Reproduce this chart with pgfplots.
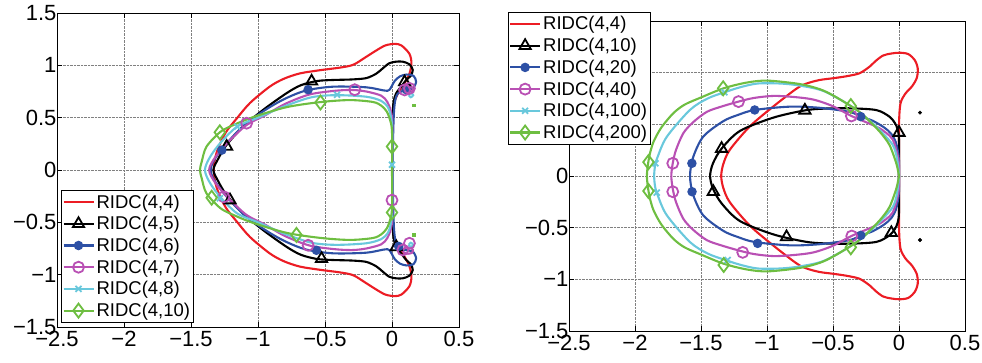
\documentclass[border=0pt]{standalone}
\usepackage{fontspec}
\setmainfont{Liberation Sans}
\usepackage{pgfplots}
\pgfplotsset{compat=1.18}
\definecolor{cred}{RGB}{236,28,36}
\definecolor{cblk}{RGB}{0,0,0}
\definecolor{cblu}{RGB}{45,80,165}
\definecolor{cmag}{RGB}{185,80,180}
\definecolor{ccya}{RGB}{105,200,220}
\definecolor{cgrn}{RGB}{110,190,65}
\pgfplotsset{
  panel/.style={
    scale only axis, xmin=-2.5, xmax=0.5, ymin=-1.5, ymax=1.5,
    xtick={-2.5,-2,-1.5,-1,-0.5,0,0.5},
    xticklabels={−2.5,−2,−1.5,−1,−0.5,0,0.5},
    ytick={-1.5,-1,-0.5,0,0.5,1,1.5},
    yticklabels={−1.5,−1,−0.5,0,0.5,1,1.5},
    tick label style={font=\fontsize{22}{22}\selectfont},
    xticklabel style={yshift=-1pt},
    yticklabel style={xshift=3pt},
    grid=major, grid style={densely dotted, black!50, line width=0.7pt},
    axis line style={line width=0.9pt},
    major tick length=5pt, tick style={black, line width=0.7pt},
    legend cell align=left,
    legend image code/.code={\draw[mark repeat=2,mark phase=2,##1] plot coordinates {(0pt,0pt) (15pt,0pt) (30pt,0pt)};},
    legend style={font=\fontsize{18.5}{18.5}\selectfont, draw=black, line width=0.9pt, fill=white,
      inner sep=1pt, nodes={inner ysep=3.4pt, inner xsep=2pt}},
  },
  lin/.style={line width=2.1pt, smooth, tension=0.5, forget plot, mark=none},
  mk/.style={only marks, forget plot, mark options={solid, line width=1.8pt}},
  tri/.style={mark=triangle, mark size=6.5pt},
  dot/.style={mark=*, mark size=3.8pt},
  cir/.style={mark=o, mark size=5.5pt},
  crs/.style={mark=x, mark size=4.2pt},
  dia/.style={mark=diamond, mark size=7pt},
  lg/.style={line width=2.1pt, mark options={solid, line width=1.8pt}},
}
\begin{document}
\begin{tikzpicture}[x=1pt,y=1pt]
\path[use as bounding box] (0,0) rectangle (982,362);
% ---------------- left panel ----------------
\begin{axis}[panel, at={(57pt,35pt)}, anchor=south west, width=402pt, height=314pt,
  legend style={at={(0.01,0.013)}, anchor=south west}]
\addlegendimage{cred, lg}
\addlegendentry{RIDC(4,4)}
\addlegendimage{cblk, lg, tri}
\addlegendentry{RIDC(4,5)}
\addlegendimage{cblu, lg, dot}
\addlegendentry{RIDC(4,6)}
\addlegendimage{cmag, lg, cir}
\addlegendentry{RIDC(4,7)}
\addlegendimage{ccya, lg, crs}
\addlegendentry{RIDC(4,8)}
\addlegendimage{cgrn, lg, dia}
\addlegendentry{RIDC(4,10)}
% RIDC(4,4)
\addplot[cred, lin] coordinates {(0.004,0) (0.004,0.45) (0.012,0.62) (0.04,0.72) (0.09,0.82) (0.13,0.92) (0.145,1.02) (0.13,1.11) (0.07,1.19) (0.02,1.205) (-0.05,1.19) (-0.12,1.14) (-0.2,1.075) (-0.29,1.005) (-0.39,0.978) (-0.54,0.953) (-0.69,0.922) (-0.81,0.87) (-0.913,0.796) (-1.06,0.64) (-1.16,0.49) (-1.24,0.36) (-1.3,0.2) (-1.325,0.08) (-1.33,0) (-1.325,-0.08) (-1.3,-0.2) (-1.24,-0.36) (-1.16,-0.49) (-1.06,-0.64) (-0.913,-0.796) (-0.81,-0.87) (-0.69,-0.922) (-0.54,-0.953) (-0.39,-0.978) (-0.29,-1.005) (-0.2,-1.075) (-0.12,-1.14) (-0.05,-1.19) (0.02,-1.205) (0.07,-1.19) (0.13,-1.11) (0.145,-1.02) (0.13,-0.92) (0.09,-0.82) (0.04,-0.72) (0.012,-0.62) (0.004,-0.45) (0.004,0)};
% RIDC(4,5)
\addplot[cblk, lin] coordinates {(0.005,0) (0.005,0.5) (0.012,0.65) (0.03,0.73) (0.07,0.80) (0.106,0.86) (0.14,0.9) (0.155,0.956) (0.13,1.01) (0.08,1.035) (0.031,1.035) (-0.02,1.02) (-0.07,0.97) (-0.118,0.92) (-0.192,0.878) (-0.3,0.865) (-0.44,0.86) (-0.56,0.85) (-0.68,0.81) (-0.788,0.733) (-0.962,0.574) (-1.111,0.415) (-1.235,0.239) (-1.30,0.10) (-1.333,0) (-1.30,-0.10) (-1.235,-0.239) (-1.111,-0.415) (-0.962,-0.574) (-0.788,-0.733) (-0.68,-0.81) (-0.56,-0.85) (-0.44,-0.86) (-0.3,-0.865) (-0.192,-0.878) (-0.118,-0.92) (-0.07,-0.97) (-0.02,-1.02) (0.031,-1.035) (0.08,-1.035) (0.13,-1.01) (0.155,-0.956) (0.14,-0.9) (0.106,-0.86) (0.07,-0.80) (0.03,-0.73) (0.012,-0.65) (0.005,-0.5) (0.005,0)};
\addplot[cblk, mk, tri] coordinates {(-0.6,0.847) (-1.234,0.224) (-1.209,-0.288) (-0.526,-0.847) (0.094,0.84) (0.032,-0.735)};
% RIDC(4,6)
\addplot[cblu, lin] coordinates {(0.005,0) (0.008,0.3) (0.014,0.54) (0.024,0.665) (0.043,0.73) (0.093,0.762) (0.155,0.78) (0.18,0.844) (0.16,0.9) (0.11,0.912) (0.06,0.895) (0.02,0.85) (-0.02,0.765) (-0.06,0.76) (-0.192,0.79) (-0.44,0.796) (-0.64,0.76) (-0.8,0.68) (-0.95,0.57) (-1.111,0.42) (-1.25,0.23) (-1.33,0.09) (-1.353,0) (-1.33,-0.09) (-1.25,-0.23) (-1.111,-0.42) (-0.95,-0.57) (-0.8,-0.68) (-0.64,-0.76) (-0.44,-0.796) (-0.192,-0.79) (-0.06,-0.76) (-0.02,-0.765) (0.02,-0.85) (0.06,-0.895) (0.11,-0.912) (0.16,-0.9) (0.18,-0.844) (0.155,-0.78) (0.093,-0.762) (0.043,-0.73) (0.024,-0.665) (0.014,-0.54) (0.008,-0.3) (0.005,0)};
\addplot[cblu, mk, dot] coordinates {(-0.626,0.767) (-1.27,0.19) (-0.564,-0.767) (0.107,0.767) (0.05,-0.73)};
% RIDC(4,7)
\addplot[cmag, lin] coordinates {(0.003,0) (0.002,0.45) (-0.01,0.57) (-0.035,0.65) (-0.08,0.71) (-0.192,0.75) (-0.3,0.765) (-0.44,0.755) (-0.62,0.72) (-0.8,0.63) (-0.95,0.52) (-1.085,0.43) (-1.22,0.27) (-1.32,0.12) (-1.365,0) (-1.32,-0.12) (-1.22,-0.27) (-1.085,-0.43) (-0.95,-0.52) (-0.8,-0.63) (-0.62,-0.72) (-0.44,-0.755) (-0.3,-0.765) (-0.192,-0.75) (-0.08,-0.71) (-0.035,-0.65) (-0.01,-0.57) (0.002,-0.45) (0.003,0)};
\addplot[cmag, lin] coordinates {(0.08,0.765) (0.095,0.745) (0.13,0.74) (0.155,0.76) (0.15,0.79) (0.12,0.80) (0.09,0.79) (0.08,0.765)};
\addplot[cmag, lin] coordinates {(0.08,-0.765) (0.095,-0.745) (0.13,-0.74) (0.155,-0.76) (0.15,-0.79) (0.12,-0.80) (0.09,-0.79) (0.08,-0.765)};
\addplot[cmag, mk, cir] coordinates {(-0.278,0.767) (-1.085,0.447) (-1.254,-0.256) (-0.626,-0.719) (0,-0.288) (0.094,0.765) (0.13,0.78) (0.081,-0.764) (0.13,-0.70)};
% RIDC(4,8)
\addplot[ccya, lin] coordinates {(0.002,0) (0.001,0.4) (-0.01,0.52) (-0.03,0.6) (-0.08,0.66) (-0.192,0.70) (-0.416,0.715) (-0.6,0.695) (-0.8,0.61) (-1.0,0.5) (-1.155,0.415) (-1.28,0.26) (-1.36,0.12) (-1.396,0) (-1.36,-0.12) (-1.28,-0.26) (-1.155,-0.415) (-1.0,-0.5) (-0.8,-0.61) (-0.6,-0.695) (-0.416,-0.715) (-0.192,-0.70) (-0.08,-0.66) (-0.03,-0.6) (-0.01,-0.52) (0.001,-0.4) (0.002,0)};
\addplot[ccya, lin] coordinates {(0.125,0.715) (0.14,0.695) (0.158,0.715) (0.14,0.735) (0.125,0.715)};
\addplot[ccya, lin] coordinates {(0.125,-0.715) (0.14,-0.695) (0.158,-0.715) (0.14,-0.735) (0.125,-0.715)};
\addplot[ccya, mk, crs] coordinates {(-0.41,0.719) (-1.155,0.415) (-1.284,-0.27) (0,0.05)};
% RIDC(4,10)
\addplot[cgrn, lin] coordinates {(0,0) (0,0.37) (-0.015,0.48) (-0.04,0.56) (-0.08,0.615) (-0.143,0.65) (-0.317,0.668) (-0.54,0.648) (-0.788,0.6) (-1.037,0.505) (-1.2,0.42) (-1.285,0.36) (-1.385,0.222) (-1.42,0.08) (-1.433,0) (-1.42,-0.08) (-1.385,-0.222) (-1.285,-0.36) (-1.2,-0.42) (-1.037,-0.505) (-0.788,-0.6) (-0.54,-0.648) (-0.317,-0.668) (-0.143,-0.65) (-0.08,-0.615) (-0.04,-0.56) (-0.015,-0.48) (0,-0.37) (0,0)};
\addplot[cgrn, mk, dia] coordinates {(-0.534,0.645) (-1.285,0.36) (-1.346,-0.265) (-0.713,-0.62) (0,0.224) (0,-0.406)};
\addplot[cgrn, only marks, forget plot, mark=square*, mark size=1.3pt] coordinates {(0.162,0.621) (0.162,-0.621)};
\end{axis}
% ---------------- right panel ----------------
\begin{axis}[panel, at={(569pt,31pt)}, anchor=south west, width=396pt, height=310pt,
  yticklabels={−1.5,−1,−0.5,0,{},{},{}},
  legend style={at={(-0.155,1.03)}, anchor=north west}]
\addlegendimage{cred, lg}
\addlegendentry{RIDC(4,4)}
\addlegendimage{cblk, lg, tri}
\addlegendentry{RIDC(4,10)}
\addlegendimage{cblu, lg, dot}
\addlegendentry{RIDC(4,20)}
\addlegendimage{cmag, lg, cir}
\addlegendentry{RIDC(4,40)}
\addlegendimage{ccya, lg, crs}
\addlegendentry{RIDC(4,100)}
\addlegendimage{cgrn, lg, dia}
\addlegendentry{RIDC(4,200)}
% RIDC(4,4)
\addplot[cred, lin] coordinates {(0,0) (0,0.45) (0.004,0.62) (0.015,0.72) (0.05,0.80) (0.1,0.87) (0.135,0.95) (0.142,1.04) (0.12,1.12) (0.07,1.18) (0.004,1.193) (-0.06,1.185) (-0.122,1.165) (-0.18,1.11) (-0.223,1.058) (-0.3,0.994) (-0.4,0.965) (-0.5,0.946) (-0.601,0.929) (-0.7,0.895) (-0.777,0.845) (-0.954,0.671) (-1.13,0.48) (-1.281,0.255) (-1.33,0.12) (-1.347,0) (-1.33,-0.12) (-1.281,-0.255) (-1.13,-0.48) (-0.954,-0.671) (-0.777,-0.845) (-0.7,-0.895) (-0.601,-0.929) (-0.5,-0.946) (-0.4,-0.965) (-0.3,-0.994) (-0.223,-1.058) (-0.18,-1.11) (-0.122,-1.165) (-0.06,-1.185) (0.004,-1.193) (0.07,-1.18) (0.12,-1.12) (0.142,-1.04) (0.135,-0.95) (0.1,-0.87) (0.05,-0.80) (0.015,-0.72) (0.004,-0.62) (0,-0.45) (0,0)};
% RIDC(4,10)
\addplot[cblk, lin] coordinates {(0,0) (0,0.35) (-0.01,0.45) (-0.03,0.51) (-0.072,0.574) (-0.172,0.638) (-0.374,0.655) (-0.567,0.652) (-0.713,0.635) (-0.952,0.565) (-1.205,0.436) (-1.344,0.265) (-1.41,0.12) (-1.431,0) (-1.41,-0.12) (-1.344,-0.265) (-1.205,-0.436) (-0.952,-0.565) (-0.713,-0.635) (-0.567,-0.652) (-0.374,-0.655) (-0.172,-0.638) (-0.072,-0.574) (-0.03,-0.51) (-0.01,-0.45) (0,-0.35) (0,0)};
\addplot[cblk, mk, tri] coordinates {(-1.344,0.265) (-1.407,-0.152) (-0.852,-0.59) (-0.713,0.635) (0,0.42) (-0.058,-0.55)};
\addplot[cblk, only marks, forget plot, mark=*, mark size=1.8pt] coordinates {(0.159,0.613) (0.159,-0.619)};
% RIDC(4,20)
\addplot[cblu, lin] coordinates {(0,0) (0,0.15) (-0.01,0.25) (-0.025,0.33) (-0.06,0.41) (-0.113,0.47) (-0.2,0.535) (-0.29,0.575) (-0.374,0.62) (-0.601,0.66) (-0.828,0.671) (-1.093,0.639) (-1.222,0.59) (-1.332,0.53) (-1.483,0.381) (-1.56,0.18) (-1.583,0) (-1.56,-0.18) (-1.483,-0.381) (-1.332,-0.53) (-1.222,-0.59) (-1.093,-0.639) (-0.828,-0.671) (-0.601,-0.66) (-0.374,-0.62) (-0.29,-0.575) (-0.2,-0.535) (-0.113,-0.47) (-0.06,-0.41) (-0.025,-0.33) (-0.01,-0.25) (0,-0.15) (0,0)};
\addplot[cblu, mk, dot] coordinates {(-1.093,0.639) (-1.569,0.123) (-1.568,-0.152) (-1.071,-0.652) (-0.29,0.575) (-0.29,-0.575)};
% RIDC(4,40)
\addplot[cmag, lin] coordinates {(0,0) (0,0.1) (-0.01,0.2) (-0.047,0.352) (-0.1,0.42) (-0.172,0.478) (-0.361,0.581) (-0.5,0.675) (-0.65,0.74) (-0.8,0.765) (-0.952,0.775) (-1.1,0.755) (-1.216,0.72) (-1.35,0.67) (-1.457,0.62) (-1.56,0.52) (-1.634,0.414) (-1.69,0.25) (-1.714,0.123) (-1.725,0) (-1.714,-0.123) (-1.69,-0.25) (-1.634,-0.414) (-1.56,-0.52) (-1.457,-0.62) (-1.35,-0.67) (-1.216,-0.72) (-1.1,-0.755) (-0.952,-0.775) (-0.8,-0.765) (-0.65,-0.74) (-0.5,-0.675) (-0.361,-0.581) (-0.172,-0.478) (-0.1,-0.42) (-0.047,-0.352) (-0.01,-0.2) (0,-0.1) (0,0)};
\addplot[cmag, mk, cir] coordinates {(-1.216,0.72) (-1.714,0.123) (-1.714,-0.152) (-1.184,-0.739) (-0.361,0.581) (-0.358,-0.581)};
% RIDC(4,100)
\addplot[ccya, lin] coordinates {(0,0) (-0.005,0.08) (-0.02,0.2) (-0.047,0.3) (-0.113,0.4) (-0.2,0.51) (-0.35,0.665) (-0.567,0.82) (-0.752,0.875) (-0.9,0.895) (-1.071,0.895) (-1.2,0.86) (-1.323,0.81) (-1.45,0.75) (-1.584,0.639) (-1.76,0.378) (-1.83,0.18) (-1.848,0.1) (-1.855,0) (-1.848,-0.1) (-1.83,-0.18) (-1.76,-0.378) (-1.584,-0.639) (-1.45,-0.75) (-1.323,-0.81) (-1.2,-0.86) (-1.071,-0.895) (-0.9,-0.895) (-0.752,-0.875) (-0.567,-0.82) (-0.35,-0.665) (-0.2,-0.51) (-0.113,-0.4) (-0.047,-0.3) (-0.02,-0.2) (-0.005,-0.08) (0,0)};
\addplot[ccya, mk, crs] coordinates {(-1.323,0.81) (-1.845,0.123) (-1.835,-0.161) (-1.298,-0.813)};
% RIDC(4,200)
\addplot[cgrn, lin] coordinates {(0,0) (-0.02,0.12) (-0.072,0.3) (-0.14,0.42) (-0.2,0.5) (-0.28,0.6) (-0.365,0.677) (-0.5,0.78) (-0.6,0.84) (-0.752,0.89) (-0.995,0.923) (-1.15,0.905) (-1.328,0.849) (-1.5,0.76) (-1.625,0.69) (-1.71,0.607) (-1.8,0.47) (-1.86,0.33) (-1.89,0.2) (-1.905,0.08) (-1.91,0) (-1.905,-0.08) (-1.89,-0.2) (-1.86,-0.33) (-1.8,-0.47) (-1.71,-0.607) (-1.625,-0.69) (-1.5,-0.76) (-1.328,-0.849) (-1.15,-0.905) (-0.995,-0.923) (-0.752,-0.89) (-0.6,-0.84) (-0.5,-0.78) (-0.365,-0.677) (-0.28,-0.6) (-0.2,-0.5) (-0.14,-0.42) (-0.072,-0.3) (-0.02,-0.12) (0,0)};
\addplot[cgrn, mk, dia] coordinates {(-1.332,0.849) (-1.898,0.135) (-1.898,-0.145) (-1.328,-0.861) (-0.365,0.677) (-0.365,-0.69)};
\end{axis}
\end{tikzpicture}
\end{document}
